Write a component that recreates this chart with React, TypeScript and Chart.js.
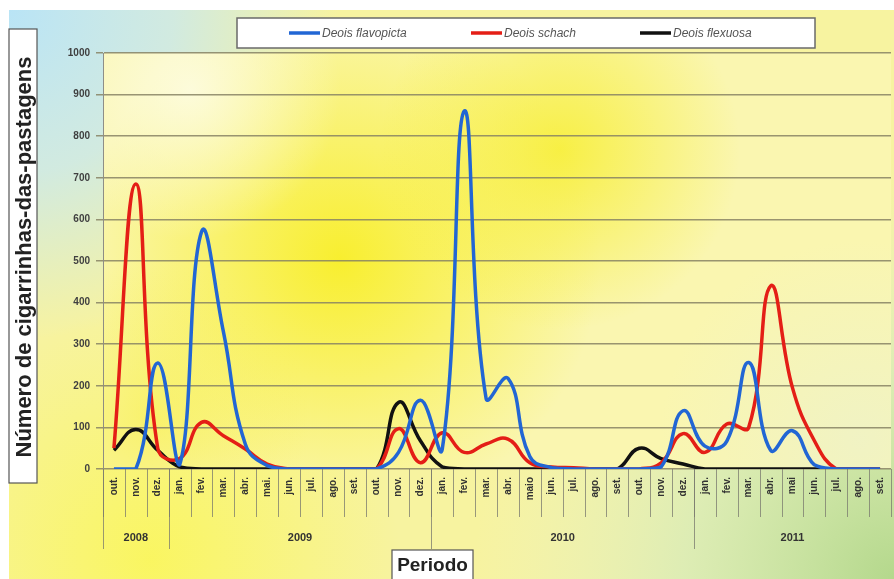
import React, { useEffect, useRef } from "react";
import { Chart, registerables } from "chart.js";

Chart.register(...registerables);

// ---------- data ----------
const months = [
  "out.", "nov.", "dez.",
  "jan.", "fev.", "mar.", "abr.", "mai.", "jun.", "jul.", "ago.", "set.", "out.", "nov.", "dez.",
  "jan.", "fev.", "mar.", "abr.", "maio", "jun.", "jul.", "ago.", "set.", "out.", "nov.", "dez.",
  "jan.", "fev.", "mar.", "abr.", "mai", "jun.", "jul.", "ago.", "set.",
];
const yearLabels = ["2008", "2009", "2010", "2011"];
const yearSpans = [3, 12, 12, 9];

const flavopicta = [
  0, 0, 255,
  10, 570, 330, 60, 8, 0, 0, 0, 0, 0, 40, 165,
  48, 860, 170, 218, 30, 3, 0, 0, 0, 0, 5, 140,
  55, 67, 256, 45, 92, 10, 0, 0, 0,
];
const schach = [
  50, 685, 50,
  25, 112, 80, 48, 12, 0, 0, 0, 0, 0, 97, 15,
  87, 40, 60, 72, 15, 5, 3, 0, 0, 0, 15, 85,
  40, 108, 100, 440, 195, 68, 0, 0, 0,
];
const flexuosa = [
  45, 95, 45,
  5, 0, 0, 0, 0, 0, 0, 0, 0, 0, 160, 68,
  5, 0, 0, 0, 0, 0, 0, 0, 0, 50, 25, 12,
  0, 0, 0, 0, 0, 0, 0, 0, 0,
];
const seriesNames = ["Deois flavopicta", "Deois schach", "Deois flexuosa"];
const seriesColors = ["#2266d4", "#e41e16", "#111111"];
const yMin = 0;
const yMax = 1000;
const yStep = 100;
const yTitle = "Número de cigarrinhas-das-pastagens";
const xTitle = "Periodo";

export default function App() {
  const ref = useRef<HTMLCanvasElement>(null);

  useEffect(() => {
    const canvas = ref.current;
    if (!canvas) return;

    const background = {
      id: "background",
      beforeDraw(chart: any) {
        const { ctx, width, height, chartArea: a } = chart;
        ctx.save();
        ctx.fillStyle = "#ffffff";
        ctx.fillRect(0, 0, width, height);
        const ox = 9, oy = 10;
        ctx.fillStyle = "#f7f3a0";
        ctx.fillRect(ox, oy, width - ox, height - oy);
        let g = ctx.createRadialGradient(ox, oy, 0, ox, oy, 330);
        g.addColorStop(0, "rgba(185,228,246,1)");
        g.addColorStop(0.5, "rgba(200,232,240,0.8)");
        g.addColorStop(1, "rgba(200,232,240,0)");
        ctx.fillStyle = g;
        ctx.fillRect(ox, oy, width - ox, height - oy);
        g = ctx.createRadialGradient(width, height, 0, width, height, 420);
        g.addColorStop(0, "rgba(180,216,140,1)");
        g.addColorStop(0.5, "rgba(215,235,185,0.8)");
        g.addColorStop(1, "rgba(235,242,200,0)");
        ctx.fillStyle = g;
        ctx.fillRect(ox, oy, width - ox, height - oy);
        g = ctx.createRadialGradient(150, 560, 0, 150, 560, 250);
        g.addColorStop(0, "rgba(250,246,90,0.9)");
        g.addColorStop(1, "rgba(250,246,90,0)");
        ctx.fillStyle = g;
        ctx.fillRect(ox, oy, width - ox, height - oy);

        ctx.beginPath();
        ctx.rect(a.left, a.top, a.right - a.left, a.bottom - a.top);
        ctx.clip();
        ctx.fillStyle = "#faf6b0";
        ctx.fillRect(a.left, a.top, a.right - a.left, a.bottom - a.top);
        const spots = [
          [340, 260, 260, "rgba(248,238,40,0.95)"],
          [560, 150, 180, "rgba(247,238,50,0.85)"],
          [150, 420, 160, "rgba(248,240,80,0.7)"],
          [190, 90, 150, "rgba(253,252,225,0.9)"],
          [860, 440, 200, "rgba(238,242,200,0.8)"],
        ];
        for (const [x, y, r, c] of spots as any) {
          const rg = ctx.createRadialGradient(x, y, 0, x, y, r);
          rg.addColorStop(0, c);
          rg.addColorStop(1, c.replace(/[\d.]+\)$/, "0)"));
          ctx.fillStyle = rg;
          ctx.fillRect(a.left, a.top, a.right - a.left, a.bottom - a.top);
        }
        ctx.restore();
      },
    };

    const decorations = {
      id: "decorations",
      afterDraw(chart: any) {
        const { ctx, chartArea: a } = chart;
        const xs = chart.scales.x;
        const n = months.length;
        const p0 = xs.getPixelForValue(0);
        const p1 = xs.getPixelForValue(1);
        const step = p1 - p0;
        const boundary = (k: number) => xs.getPixelForValue(k) - step / 2;

        ctx.save();
        ctx.strokeStyle = "rgba(120,120,110,0.75)";
        ctx.lineWidth = 1;
        for (let k = 0; k <= n; k++) {
          const x = Math.round(boundary(k)) + 0.5;
          ctx.beginPath();
          ctx.moveTo(x, a.bottom);
          ctx.lineTo(x, a.bottom + 48);
          ctx.stroke();
        }
        let start = 0;
        ctx.font = "bold 11px 'Liberation Sans', Arial, sans-serif";
        ctx.fillStyle = "#333";
        ctx.textAlign = "center";
        ctx.textBaseline = "middle";
        for (let i = 0; i < yearLabels.length; i++) {
          const end = start + yearSpans[i];
          const xl = boundary(start);
          const xr = boundary(end);
          const x = Math.round(xl) + 0.5;
          ctx.beginPath();
          ctx.moveTo(x, a.bottom);
          ctx.lineTo(x, a.bottom + 80);
          ctx.stroke();
          ctx.fillText(yearLabels[i], (xl + xr) / 2, a.bottom + 69);
          start = end;
        }

        // legend
        const lx = 237, ly = 18, lw = 578, lh = 30;
        ctx.fillStyle = "#ffffff";
        ctx.fillRect(lx, ly, lw, lh);
        ctx.strokeStyle = "#6a6a6a";
        ctx.lineWidth = 1.5;
        ctx.strokeRect(lx, ly, lw, lh);
        const itemX = [289, 471, 640];
        ctx.font = "italic 12px 'Liberation Sans', Arial, sans-serif";
        ctx.textAlign = "left";
        for (let i = 0; i < seriesNames.length; i++) {
          const cy = ly + lh / 2;
          ctx.strokeStyle = seriesColors[i];
          ctx.lineWidth = 3.5;
          ctx.beginPath();
          ctx.moveTo(itemX[i], cy);
          ctx.lineTo(itemX[i] + 31, cy);
          ctx.stroke();
          ctx.fillStyle = "#555555";
          ctx.fillText(seriesNames[i], itemX[i] + 33, cy + 1);
        }

        // y title box
        ctx.fillStyle = "#ffffff";
        ctx.fillRect(9, 29, 28, 454);
        ctx.strokeStyle = "#555";
        ctx.lineWidth = 1.2;
        ctx.strokeRect(9, 29, 28, 454);
        let fs = 18;
        ctx.font = `bold ${fs}px 'Liberation Sans', Arial, sans-serif`;
        const tw = ctx.measureText(yTitle).width;
        fs = Math.min(22, fs * (430 / tw));
        ctx.font = `bold ${fs}px 'Liberation Sans', Arial, sans-serif`;
        ctx.fillStyle = "#222";
        ctx.textAlign = "center";
        ctx.textBaseline = "middle";
        ctx.translate(23.5, 257);
        ctx.rotate(-Math.PI / 2);
        ctx.fillText(yTitle, 0, 1);
        ctx.setTransform(1, 0, 0, 1, 0, 0);

        // x title box
        ctx.fillStyle = "#ffffff";
        ctx.fillRect(392, 550, 81, 32);
        ctx.strokeStyle = "#555";
        ctx.strokeRect(392, 550, 81, 32);
        ctx.font = "bold 19px 'Liberation Sans', Arial, sans-serif";
        ctx.fillStyle = "#222";
        ctx.fillText(xTitle, 432.5, 566);
        ctx.restore();
      },
    };

    const chart = new Chart(canvas, {
      type: "line",
      data: {
        labels: months,
        datasets: [flavopicta, schach, flexuosa].map((d, i) => ({
          label: seriesNames[i],
          data: d,
          borderColor: seriesColors[i],
          backgroundColor: seriesColors[i],
          borderWidth: 3.5,
          pointRadius: 0,
          tension: 0.45,
          fill: false,
        })),
      },
      options: {
        responsive: false,
        animation: false,
        layout: { padding: { top: 53, right: 3, left: 0, bottom: 0 } },
        plugins: { legend: { display: false }, tooltip: { enabled: false }, title: { display: false } },
        scales: {
          x: {
            type: "category",
            offset: true,
            grid: { display: false, drawTicks: false },
            border: { display: false },
            ticks: {
              autoSkip: false,
              maxRotation: 90,
              minRotation: 90,
              padding: 8,
              color: "#333",
              font: { family: "'Liberation Sans', Arial, sans-serif", size: 10, weight: "bold" },
            },
            afterFit: (s: any) => {
              s.height = 110;
              s.paddingLeft = 0;
              s.paddingRight = 0;
            },
          },
          y: {
            min: yMin,
            max: yMax,
            ticks: {
              stepSize: yStep,
              padding: 6,
              color: "#404040",
              font: { family: "'Liberation Sans', Arial, sans-serif", size: 10, weight: "bold" },
              callback: (v: any) => String(v),
            },
            grid: { color: "rgba(135,130,100,0.85)", lineWidth: 1.5, tickLength: 7 },
            border: { display: true, color: "rgba(130,130,130,0.9)", width: 1 },
            afterFit: (s: any) => {
              s.width = 103;
              s.paddingTop = 0;
              s.paddingBottom = 0;
            },
          },
        },
      },
      plugins: [background, decorations],
    });

    return () => chart.destroy();
  }, []);

  return (
    <div style={{ position: "fixed", left: 0, top: 0, width: 894, height: 579 }}>
      <canvas ref={ref} width={894} height={579} style={{ display: "block" }} />
    </div>
  );
}
